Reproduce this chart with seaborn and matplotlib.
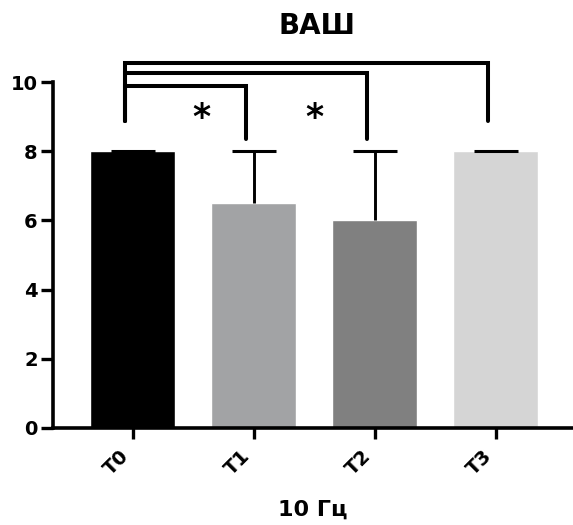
import matplotlib
matplotlib.use("Agg")
import matplotlib.pyplot as plt
import matplotlib.transforms as mtransforms
import seaborn as sns
import pandas as pd

categories = ["T0", "T1", "T2", "T3"]
means = [8.0, 6.5, 6.0, 8.0]
upper = [8.0, 8.0, 8.0, 8.0]
colors = ["#000000", "#a2a3a5", "#808080", "#d5d5d5"]
y_ticks = [0, 2, 4, 6, 8, 10]

# significance brackets: (from, to, bar height, left drop, right drop)
brackets = [
    (0, 3, 10.55, 8.88, 8.88),
    (0, 2, 10.26, 8.88, 8.36),
    (0, 1, 9.88, 8.88, 8.36),
]
stars = [(0.57, 8.95), (1.5, 8.95)]

sns.set_style("white")
plt.rcParams["font.family"] = ["DejaVu Sans"]
plt.rcParams["font.weight"] = "bold"
for key in ["text.color", "axes.labelcolor", "xtick.color", "ytick.color"]:
    plt.rcParams[key] = "black"

fig = plt.figure(figsize=(5.73, 5.25), dpi=100)
ax = fig.add_axes([0.0925, 0.1848, 0.9075, 0.659])

df = pd.DataFrame({"cat": categories, "val": means})
sns.barplot(data=df, x="cat", y="val", hue="cat", palette=colors,
            width=0.7, legend=False, ax=ax, saturation=1)

# upward-only error bars, cap only on the upper end
xs = list(range(len(categories)))
err_up = [u - m for u, m in zip(upper, means)]
_, caps, _ = ax.errorbar(xs, means, yerr=[[0] * len(means), err_up],
                         fmt="none", ecolor="black", elinewidth=2.1,
                         capsize=15.5, capthick=2.2, zorder=5)
caps[0].set_visible(False)

off = -0.065
for a, b, h, la, lb in brackets:
    ax.plot([a + off, a + off, b + off, b + off], [la, h, h, lb],
            color="black", lw=2.9, clip_on=False, solid_capstyle="round",
            solid_joinstyle="miter", zorder=6)
for sx, sy in stars:
    ax.text(sx, sy, "*", ha="center", va="center", fontsize=25,
            fontweight="bold", color="black")

ax.set_xlim(-0.66, 3.64)
ax.set_ylim(0, 10)
ax.set_yticks(y_ticks)
ax.set_yticklabels([str(t) for t in y_ticks], fontsize=14, fontweight="bold")
ax.set_xticks(xs)
ax.set_xticklabels(categories, rotation=45, fontsize=14, fontweight="bold",
                   ha="right", va="top")
shift = mtransforms.ScaledTranslation(5 / 100, 0, fig.dpi_scale_trans)
for lbl in ax.get_xticklabels():
    lbl.set_transform(lbl.get_transform() + shift)
ax.tick_params(axis="both", direction="out", length=9, width=2.4,
               color="black", labelcolor="black", bottom=True, left=True)
ax.tick_params(axis="y", pad=2)
ax.tick_params(axis="x", length=8, pad=5)

sns.despine(ax=ax)
for side in ["left", "bottom"]:
    ax.spines[side].set_linewidth(2.6)
    ax.spines[side].set_color("black")

ax.set_xlabel("10 Гц", fontsize=16, fontweight="bold", labelpad=15,
              color="black")
ax.set_ylabel("")
fig.text(0.553, 0.95, "ВАШ", ha="center", va="center", fontsize=20,
         fontweight="bold", color="black")

fig.savefig("out.png", dpi=100)
